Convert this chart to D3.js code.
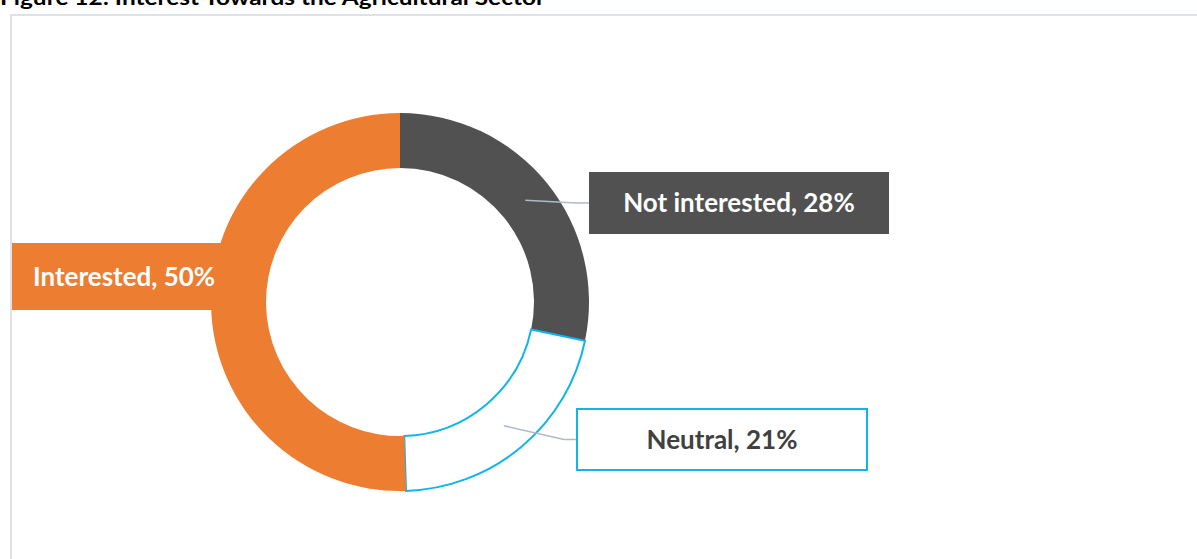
<!DOCTYPE html>
<html>
<head>
<meta charset="utf-8">
<script src="https://cdn.jsdelivr.net/npm/d3@7/dist/d3.min.js"></script>
<style>
  html, body { margin: 0; padding: 0; background: #fff; }
  svg { display: block; }
  text { font-family: Lato, "Open Sans", sans-serif; font-weight: 700; }
</style>
</head>
<body>
<svg id="chart" width="1197" height="559"></svg>
<script>
// Survey answers, in the order the ring is drawn (clockwise from 12 o'clock)
const categories = ["Not interested", "Neutral", "Interested"];
const shares = [28, 21, 50];
const titleText = "Figure 12: Interest Towards the Agricultural Sector";

const W = 1197, H = 559;
const svg = d3.select("#chart");

// Figure caption (sits above the chart frame)
svg.append("text")
  .attr("x", 0).attr("y", 5)
  .attr("font-size", 20)
  .attr("fill", "#000")
  .attr("textLength", 545)
  .attr("lengthAdjust", "spacingAndGlyphs")
  .text(titleText);

// Chart frame
svg.append("rect")
  .attr("x", 11).attr("y", 15)
  .attr("width", W + 20).attr("height", H + 20)
  .attr("fill", "#fff")
  .attr("stroke", "#dde2e9")
  .attr("stroke-width", 2);

const cx = 400, cy = 302, rOuter = 189, rInner = 134;

const style = {
  "Not interested": { fill: "#515151", stroke: "none", text: "#fff", boxFill: "#515151", boxStroke: "none" },
  "Neutral": { fill: "#fff", stroke: "#10b4ee", text: "#404040", boxFill: "#fff", boxStroke: "#10b4ee" },
  "Interested": { fill: "#ed7d31", stroke: "none", text: "#fff", boxFill: "#ed7d31", boxStroke: "none" }
};

// Label boxes in chart pixels; leader lines run from the slice centroid
const labelLayout = {
  "Not interested": { x: 589, y: 172, w: 300, h: 62, leader: true },
  "Neutral": { x: 577, y: 409, w: 290, h: 61, leader: true },
  "Interested": { x: 12, y: 243, w: 218, h: 67, leader: false }
};

const data = categories.map((c, i) => ({ name: c, value: shares[i] }));
const pie = d3.pie().sort(null).value(d => d.value);
const arcs = pie(data);
const arc = d3.arc().innerRadius(rInner).outerRadius(rOuter);

// The orange label box tucks in behind the ring
{
  const L = labelLayout["Interested"], s = style["Interested"];
  svg.append("rect").attr("x", L.x).attr("y", L.y).attr("width", L.w).attr("height", L.h)
    .attr("fill", s.boxFill);
}

const g = svg.append("g").attr("transform", `translate(${cx},${cy})`);
g.selectAll("path.slice")
  .data(arcs)
  .join("path")
  .attr("class", "slice")
  .attr("d", arc)
  .attr("fill", d => style[d.data.name].fill)
  .attr("stroke", d => style[d.data.name].stroke)
  .attr("stroke-width", d => style[d.data.name].stroke === "none" ? 0 : 2);

// Leader lines from the middle of each slice to its label box
arcs.forEach(a => {
  const L = labelLayout[a.data.name];
  if (!L.leader) return;
  const c = arc.centroid(a);
  const sx = cx + c[0], sy = cy + c[1];
  const ty = L.y + L.h / 2;
  const pts = [[sx, sy], [L.x - 13, ty], [L.x, ty]];
  svg.append("path")
    .attr("d", d3.line()(pts))
    .attr("fill", "none")
    .attr("stroke", "#adbacb")
    .attr("stroke-width", 1.5);
});

// Label boxes and texts
arcs.forEach(a => {
  const name = a.data.name, L = labelLayout[name], s = style[name];
  if (name !== "Interested") {
    svg.append("rect").attr("x", L.x).attr("y", L.y).attr("width", L.w).attr("height", L.h)
      .attr("fill", s.boxFill)
      .attr("stroke", s.boxStroke)
      .attr("stroke-width", s.boxStroke === "none" ? 0 : 2);
  }
  const t = svg.append("text")
    .attr("y", L.y + L.h / 2)
    .attr("dy", "0.36em")
    .attr("font-size", 26)
    .attr("fill", s.text)
    .text(`${name}, ${a.data.value}%`);
  if (name === "Interested") {
    t.attr("x", L.x + 21);
  } else {
    t.attr("x", L.x + L.w / 2).attr("text-anchor", "middle");
  }
});
</script>
</body>
</html>
